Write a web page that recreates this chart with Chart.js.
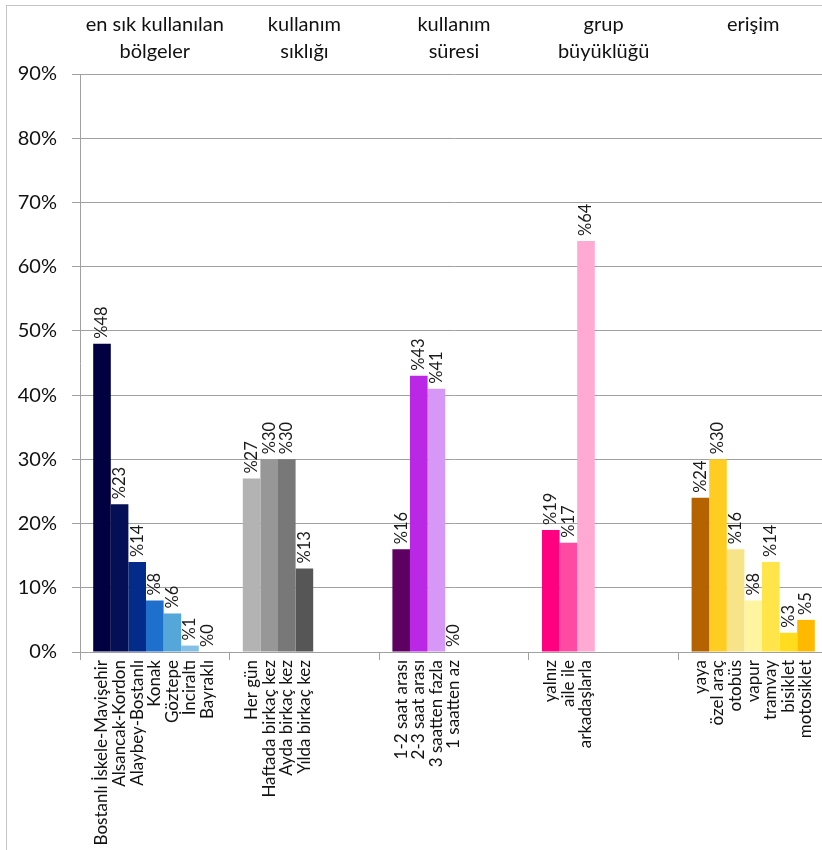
<!DOCTYPE html>
<html>
<head>
<meta charset="utf-8">
<script src="https://cdn.jsdelivr.net/npm/chart.js@4"></script>
<style>
  html, body { margin: 0; padding: 0; background: #fff; overflow: hidden; }
  canvas { position: absolute; left: 0; top: 0; }
</style>
</head>
<body>
<canvas id="chart" width="830" height="850"></canvas>
<script>
// group headers (top axis)
const groups = [
  ['en sık kullanılan', 'bölgeler'],
  ['kullanım', 'sıklığı'],
  ['kullanım', 'süresi'],
  ['grup', 'büyüklüğü'],
  ['erişim']
];

// item names per group
const regionItems = ['Bostanlı İskele-Mavişehir', 'Alsancak-Kordon', 'Alaybey-Bostanlı', 'Konak', 'Göztepe', 'İnciraltı', 'Bayraklı'];
const frequencyItems = ['Her gün', 'Haftada birkaç kez', 'Ayda birkaç kez', 'Yılda birkaç kez'];
const durationItems = ['1-2 saat arası', '2-3 saat arası', '3 saatten fazla', '1 saatten az'];
const groupSizeItems = ['yalnız', 'aile ile', 'arkadaşlarla'];
const accessItems = ['yaya', 'özel araç', 'otobüs', 'vapur', 'tramvay', 'bisiklet', 'motosiklet'];

// values (%) per group
const regionValues = [48, 23, 14, 8, 6, 1, 0];
const frequencyValues = [27, 30, 30, 13];
const durationValues = [16, 43, 41, 0];
const groupSizeValues = [19, 17, 64];
const accessValues = [24, 30, 16, 8, 14, 3, 5];

// bar colours per group
const regionColors = ['#010141', '#040f55', '#022b8a', '#1f6fcc', '#55a7d9', '#84c0e6', '#a9d4ee'];
const frequencyColors = ['#b3b3b3', '#979797', '#787878', '#565656'];
const durationColors = ['#5d0062', '#ba28e6', '#d797f7', '#e8c4fb'];
const groupSizeColors = ['#ff0080', '#ff4aa4', '#ffa9d3'];
const accessColors = ['#b46300', '#ffcc22', '#f7e388', '#fff5a0', '#ffe54a', '#ffdc1e', '#ffba00'];

// y axis ticks
const yTicks = [0, 10, 20, 30, 40, 50, 60, 70, 80, 90];

const items = [regionItems, frequencyItems, durationItems, groupSizeItems, accessItems];
const values = [regionValues, frequencyValues, durationValues, groupSizeValues, accessValues];
const colors = [regionColors, frequencyColors, durationColors, groupSizeColors, accessColors];

const slots = Math.max(...items.map(a => a.length));
const datasets = [];
for (let k = 0; k < slots; k++) {
  datasets.push({
    data: values.map(v => (k < v.length ? v[k] : null)),
    backgroundColor: colors.map(c => c[k] || '#000'),
    borderWidth: 0,
    categoryPercentage: 7 / 8.5,
    barPercentage: 1
  });
}

const gray = '#a0a0a0';
const font = 'Lato, "Open Sans", sans-serif';

const frame = {
  id: 'frame',
  beforeDraw(chart) {
    const ctx = chart.ctx;
    ctx.save();
    ctx.strokeStyle = '#c4c4c4';
    ctx.lineWidth = 1;
    ctx.strokeRect(6.5, 5.5, 900, 900);
    ctx.restore();
  }
};

// value labels above the bars and item names under the axis, placed at each bar element
const barText = {
  id: 'barText',
  afterDatasetsDraw(chart) {
    const ctx = chart.ctx;
    const area = chart.chartArea;
    chart.data.datasets.forEach((ds, k) => {
      const meta = chart.getDatasetMeta(k);
      meta.data.forEach((bar, g) => {
        const v = ds.data[g];
        if (v === null || v === undefined) return;
        ctx.save();
        ctx.fillStyle = '#1a1a1a';
        ctx.font = '16.5px ' + font;
        ctx.translate(bar.x, chart.scales.y.getPixelForValue(v) - 5);
        ctx.rotate(-Math.PI / 2);
        ctx.textAlign = 'left';
        ctx.textBaseline = 'middle';
        ctx.fillText('%' + v, 0, 0);
        ctx.restore();

        ctx.save();
        ctx.fillStyle = '#111';
        ctx.font = '17px ' + font;
        ctx.translate(bar.x, area.bottom + 8);
        ctx.rotate(-Math.PI / 2);
        ctx.textAlign = 'right';
        ctx.textBaseline = 'middle';
        ctx.fillText(items[g][k], 0, 0);
        ctx.restore();
      });
    });
  }
};

new Chart(document.getElementById('chart'), {
  type: 'bar',
  data: { labels: groups, datasets: datasets },
  options: {
    responsive: false,
    animation: false,
    layout: { padding: { left: 0, right: 2, top: 0, bottom: 0 } },
    plugins: { legend: { display: false }, tooltip: { enabled: false } },
    scales: {
      x: {
        type: 'category',
        position: 'bottom',
        offset: true,
        ticks: { display: false },
        grid: { offset: true, drawOnChartArea: false, tickLength: 8, color: gray },
        border: { color: gray },
        afterFit: s => { s.height = 198; }
      },
      xTop: {
        type: 'category',
        position: 'top',
        offset: true,
        grid: { display: false },
        border: { display: false },
        ticks: {
          crossAlign: 'far',
          padding: 1,
          color: '#111',
          font: { family: font, size: 20, lineHeight: 1.35 },
          maxRotation: 0,
          autoSkip: false
        },
        afterFit: s => { s.height = 74; }
      },
      y: {
        min: 0,
        max: 90,
        afterBuildTicks: s => { s.ticks = yTicks.map(v => ({ value: v })); },
        ticks: {
          padding: 15,
          color: '#111',
          font: { family: font, size: 20 },
          callback: v => v + '%'
        },
        grid: { color: gray, tickLength: 8 },
        border: { color: gray },
        afterFit: s => { s.width = 80; }
      }
    }
  },
  plugins: [frame, barText]
});
</script>
</body>
</html>
